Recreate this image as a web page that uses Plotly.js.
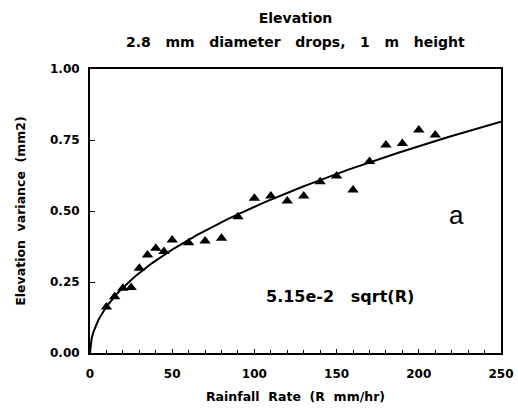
<!DOCTYPE html>
<html>
<head>
<meta charset="utf-8">
<script src="https://cdn.plot.ly/plotly-3.0.1.min.js"></script>
<style>
  html, body { margin: 0; padding: 0; background: #fff; }
  #chart { width: 518px; height: 418px; }
</style>
</head>
<body>
<div id="chart"></div>
<script>
// Measured elevation variance versus rainfall rate
const rainRate = [10, 15, 20, 25, 30, 35, 40, 45, 50, 60, 70, 80, 90,
                  100, 110, 120, 130, 140, 150, 160, 170, 180, 190, 200, 210];
const variance = [0.162, 0.198, 0.228, 0.231, 0.298, 0.345, 0.369, 0.357, 0.398,
                  0.388, 0.394, 0.404, 0.480, 0.545, 0.553, 0.535, 0.553, 0.603,
                  0.623, 0.574, 0.674, 0.732, 0.738, 0.785, 0.768];

// Fitted model: variance = 5.15e-2 * sqrt(R)
const fitCoef = 5.15e-2;
const fitR = [];
for (let r = 0; r <= 250; r += 1) fitR.push(r);
const fitV = fitR.map(r => fitCoef * Math.sqrt(r));

const xTicks = [0, 50, 100, 150, 200, 250];
const yTicks = [0, 0.25, 0.5, 0.75, 1.0];
const yTickText = ['0.00', '0.25', '0.50', '0.75', '1.00'];

const FONT = 'DejaVu Sans, Liberation Sans, sans-serif';

const traces = [
  {
    x: fitR, y: fitV, mode: 'lines', type: 'scatter',
    line: { color: '#000', width: 2 }, hoverinfo: 'skip'
  },
  {
    x: rainRate, y: variance, mode: 'markers', type: 'scatter',
    marker: { symbol: 'triangle-up', size: 10, color: '#000' }
  }
];

const layout = {
  width: 518, height: 418,
  margin: { l: 90, r: 17, t: 69, b: 65 },
  paper_bgcolor: '#fff', plot_bgcolor: '#fff',
  showlegend: false,
  font: { family: FONT, color: '#000', size: 12 },
  title: {
    text: '<b>Elevation</b>',
    font: { family: FONT, size: 14, color: '#000' },
    xref: 'paper', x: 0.5, xanchor: 'center',
    yref: 'container', y: 1 - 18 / 418, yanchor: 'middle'
  },
  xaxis: {
    range: [0, 250], tickvals: xTicks, ticktext: xTicks.map(String),
    ticks: 'inside', ticklen: 4, tickwidth: 1, tickcolor: '#000',
    minor: { dtick: 10, tick0: 0, ticks: 'inside', ticklen: 3, tickcolor: '#000', showgrid: false },
    showline: true, linecolor: '#000', linewidth: 2, mirror: true,
    showgrid: false, zeroline: false,
    ticklabelstandoff: 9,
    tickfont: { family: FONT, size: 12, color: '#000', weight: 'bold' },
    title: { text: '<b>Rainfall  Rate  (R  mm/hr)</b>', font: { family: FONT, size: 12.5, color: '#000' }, standoff: 12 }
  },
  yaxis: {
    range: [0, 1], tickvals: yTicks, ticktext: yTickText,
    ticks: 'inside', ticklen: 5, tickwidth: 1, tickcolor: '#000',
    showline: true, linecolor: '#000', linewidth: 2, mirror: true,
    showgrid: false, zeroline: false,
    ticklabelstandoff: 6,
    tickfont: { family: FONT, size: 12, color: '#000', weight: 'bold' },
    title: { text: '<b>Elevation  variance  (mm2)</b>', font: { family: FONT, size: 12.5, color: '#000' }, standoff: 22 }
  },
  annotations: [
    {
      x: 0.5, y: (353 - 42) / 284, xref: 'paper', yref: 'paper', showarrow: false,
      xanchor: 'center', yanchor: 'middle',
      text: '<b>2.8   mm   diameter   drops,   1   m   height</b>',
      font: { family: FONT, size: 14, color: '#000' }
    },
    {
      x: 152, y: 0.2, xref: 'x', yref: 'y', showarrow: false,
      text: '<b>5.15e-2   sqrt(R)</b>', font: { family: FONT, size: 16, color: '#000' }
    },
    {
      x: 223, y: 0.486, xref: 'x', yref: 'y', showarrow: false,
      text: 'a', font: { family: 'Liberation Sans, Arial, sans-serif', size: 26, color: '#000' }
    }
  ]
};

Plotly.newPlot('chart', traces, layout, { displayModeBar: false, staticPlot: true });
</script>
</body>
</html>
